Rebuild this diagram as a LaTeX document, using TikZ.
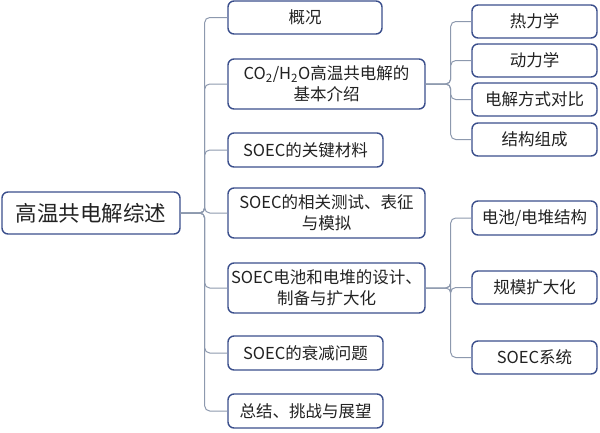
\documentclass[tikz,border=0pt]{standalone}
\usepackage{fontspec}
\setmainfont{Noto Sans CJK SC}
\definecolor{boxblue}{HTML}{3B4F8C}
\definecolor{linegray}{HTML}{8D99AE}
\definecolor{inkgray}{HTML}{222222}

\begin{document}
\begin{tikzpicture}[x=1pt,y=1pt]
\tikzstyle{every node}+=[inner sep=0pt]
\tikzstyle{topic}=[draw=boxblue, line width=1.4pt, rounded corners=6pt, fill=white, text=inkgray, align=center, font=\fontsize{16.5}{21}\selectfont]
\tikzstyle{branch}=[linegray, line width=1pt, rounded corners=5pt]
\useasboundingbox (0,0) rectangle (600,-432);
% root
\node [topic, minimum width=178pt, minimum height=42pt, font=\fontsize{21.5}{24}\selectfont] (root) at (91,-213) {高温共电解综述};
% first level
\node [topic, minimum width=154pt, minimum height=33pt] (gaikuang) at (305,-17.5) {概况};
\node [topic, minimum width=197pt, minimum height=50pt] (jieshao) at (326.5,-84) {CO\textsubscript{2}/H\textsubscript{2}O高温共电解的\\基本介绍};
\node [topic, minimum width=155pt, minimum height=34pt] (cailiao) at (305.5,-150) {SOEC的关键材料};
\node [topic, minimum width=197pt, minimum height=50pt] (ceshi) at (326.5,-213) {SOEC的相关测试、表征\\与模拟};
\node [topic, minimum width=197pt, minimum height=50pt] (sheji) at (326.5,-288) {SOEC电池和电堆的设计、\\制备与扩大化};
\node [topic, minimum width=155pt, minimum height=34pt] (shuaijian) at (305.5,-353) {SOEC的衰减问题};
\node [topic, minimum width=155pt, minimum height=34pt] (zongjie) at (305.5,-411) {总结、挑战与展望};
% second level
\node [topic, minimum width=125pt, minimum height=33pt] (reli) at (534.5,-21.5) {热力学};
\node [topic, minimum width=125pt, minimum height=33pt] (dongli) at (534.5,-60.5) {动力学};
\node [topic, minimum width=125pt, minimum height=33pt] (fangshi) at (534.5,-99.5) {电解方式对比};
\node [topic, minimum width=125pt, minimum height=33pt] (jiegou) at (534.5,-139.5) {结构组成};
\node [topic, minimum width=125pt, minimum height=34pt] (diandui) at (534.5,-218) {电池/电堆结构};
\node [topic, minimum width=125pt, minimum height=33pt] (guimo) at (534.5,-287.5) {规模扩大化};
\node [topic, minimum width=125pt, minimum height=33pt] (xitong) at (534.5,-357.5) {SOEC系统};
% connectors
\foreach \child in {gaikuang,jieshao,cailiao,ceshi,sheji,shuaijian,zongjie}
  \draw [branch] (root.east) -- ++(24,0) |- (\child.west);
\foreach \child in {reli,dongli,fangshi,jiegou}
  \draw [branch] (jieshao.east) -- ++(25,0) |- (\child.west);
\foreach \child in {diandui,guimo,xitong}
  \draw [branch] (sheji.east) -- ++(25,0) |- (\child.west);
\end{tikzpicture}
\end{document}
